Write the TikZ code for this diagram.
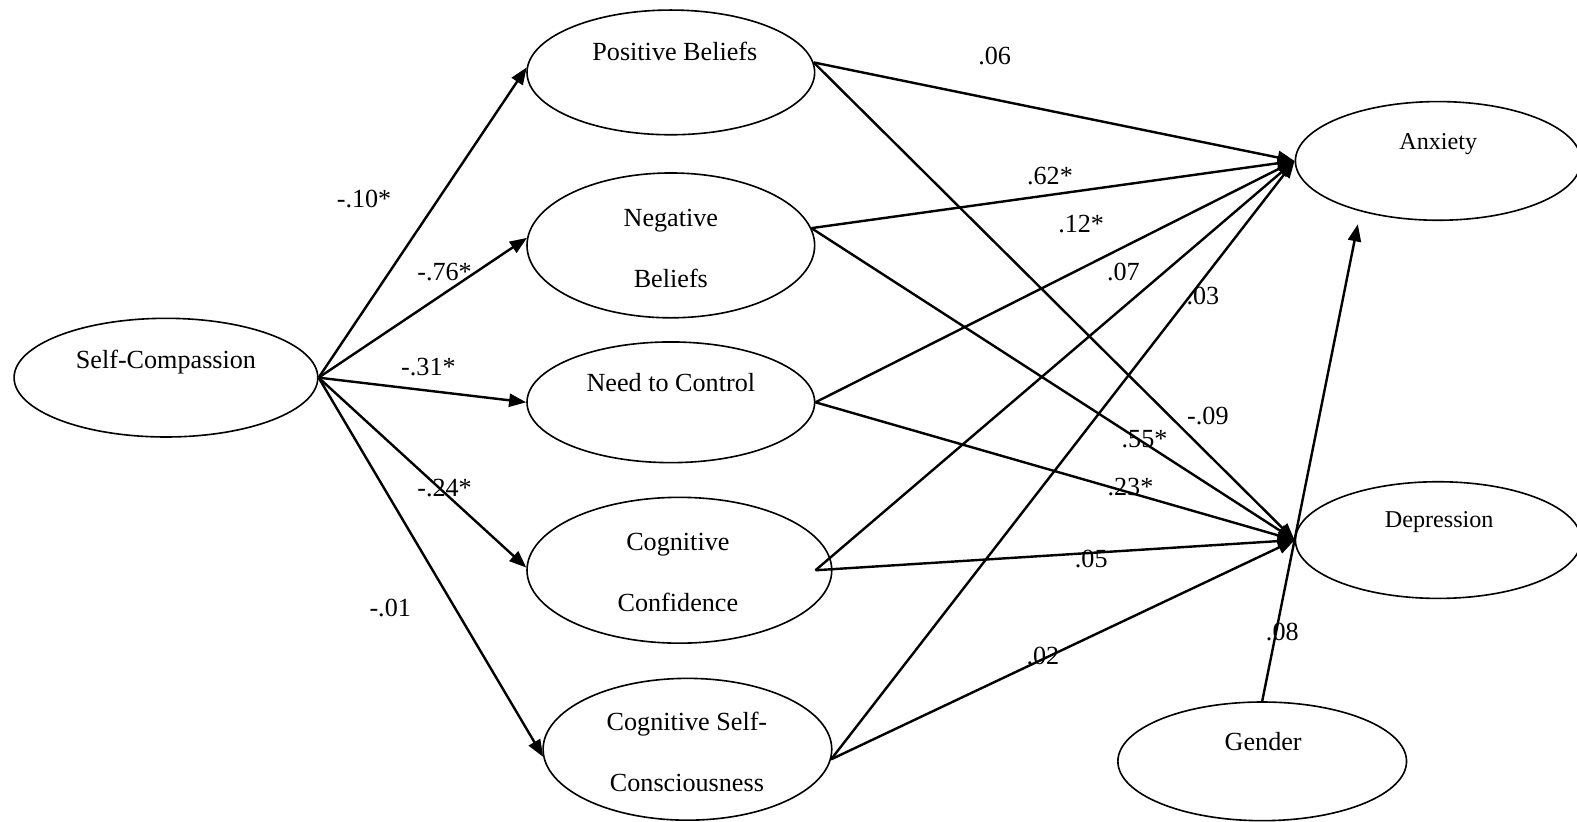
\documentclass[tikz,border=0pt]{standalone}
\usepackage{fontspec}
\setmainfont{Liberation Serif}
\usetikzlibrary{shapes.geometric,arrows.meta}
\begin{document}
\begin{tikzpicture}[x=0.5pt,y=-0.5pt,
  ell/.style={draw, ellipse, line width=0.8pt, inner sep=0pt},
  txt/.style={inner sep=0pt, anchor=base, font=\fontsize{13pt}{15pt}\selectfont},
  txts/.style={inner sep=0pt, anchor=base, font=\fontsize{12pt}{14pt}\selectfont},
  lab/.style={inner sep=0pt, font=\fontsize{13pt}{15pt}\selectfont},
  arr/.style={line width=1.2pt, -{Triangle[length=8.5pt,width=6.5pt]}}]
\useasboundingbox (0,0) rectangle (1568,817);
% ellipses
\node[ell, minimum width=151pt, minimum height=59pt] (sc) at (165,375.5) {};
\node[ell, minimum width=143pt, minimum height=62pt] (pb) at (667,72) {};
\node[ell, minimum width=143pt, minimum height=72pt] (nb) at (667,244) {};
\node[ell, minimum width=143pt, minimum height=60pt] (nc) at (667,400) {};
\node[ell, minimum width=151.5pt, minimum height=72.5pt] (cc) at (675.5,567) {};
\node[ell, minimum width=143.5pt, minimum height=70.5pt] (cs) at (683.5,745) {};
\node[ell, minimum width=142pt, minimum height=59pt] (ax) at (1430,160) {};
\node[ell, minimum width=142pt, minimum height=58pt] (dp) at (1430,537) {};
\node[ell, minimum width=143.5pt, minimum height=59pt] (gd) at (1255,757) {};
% texts (baselines)
\node[txt] (tsc) at (165,366) {Self-Compassion};
\node[txt] (tpb) at (671,60.5) {Positive Beliefs};
\node[txt] (tnb1) at (667,225.5) {Negative};
\node[txt] (tnb2) at (667,286) {Beliefs};
\node[txt] (tnc) at (667,389.5) {Need to Control};
\node[txt] (tcc1) at (674,547.5) {Cognitive};
\node[txt] (tcc2) at (674,608) {Confidence};
\node[txt] (tcs1) at (683,726) {Cognitive Self-};
\node[txt] (tcs2) at (683,787) {Consciousness};
\node[txts] (tax) at (1430,149) {Anxiety};
\node[txts] (tdp) at (1431,524) {Depression};
\node[txt] (tgd) at (1256,746.5) {Gender};
% arrows from self-compassion
\draw[arr] (sc.east) -- (pb.178);
\draw[arr] (sc.east) -- (nb.177);
\draw[arr] (sc.east) -- (nc.west);
\draw[arr] (sc.east) -- (cc.179);
\draw[arr] (sc.east) -- (cs.183);
% to anxiety
\draw[arr] (pb.4) -- (ax.west);
\draw[arr] (nb.7) -- (ax.west);
\draw[arr] (nc.east) -- (ax.west);
\draw[arr] ([xshift=-8.5pt]cc.east) -- (ax.west);
\draw[arr] (cs.-4) -- (ax.west);
% to depression
\draw[arr] (pb.4) -- (dp.west);
\draw[arr] (nb.7) -- (dp.west);
\draw[arr] (nc.east) -- (dp.west);
\draw[arr] ([xshift=-8.5pt]cc.east) -- (dp.west);
\draw[arr] (cs.-4) -- (dp.west);
% gender
\draw[arr, shorten >=6.5pt] (gd.north) -- (ax.213);
% labels
\node[lab] (l1) at (362,198) {-.10*};
\node[lab] (l2) at (442,270) {-.76*};
\node[lab] (l3) at (426,365) {-.31*};
\node[lab] (l4) at (442,485) {-.24*};
\node[lab] (l5) at (388,605) {-.01};
\node[lab] (l6) at (989,56) {.06};
\node[lab] (l7) at (1044,175) {.62*};
\node[lab] (l8) at (1075,223) {.12*};
\node[lab] (l9) at (1117,270) {.07};
\node[lab] (l10) at (1196,294) {.03};
\node[lab] (l11) at (1201,414) {-.09};
\node[lab] (l12) at (1138,437) {.55*};
\node[lab] (l13) at (1124,484) {.23*};
\node[lab] (l14) at (1085,556) {.05};
\node[lab] (l15) at (1037,652) {.02};
\node[lab] (l16) at (1275,628) {.08};
\end{tikzpicture}
\end{document}
